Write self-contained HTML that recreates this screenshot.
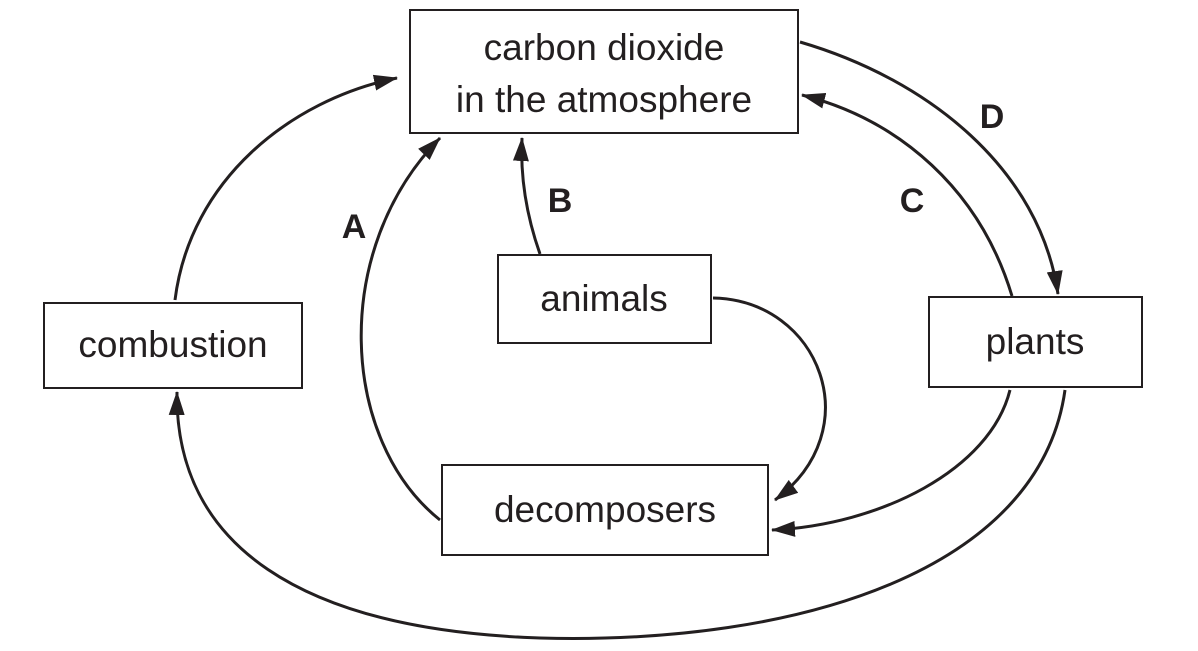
<!DOCTYPE html>
<html><head><meta charset="utf-8"><style>
html,body{margin:0;padding:0;background:#fff;}
svg{display:block;}
text{font-family:"Liberation Sans",Arial,sans-serif;fill:#231f20;}
</style></head><body>
<svg width="1198" height="651" viewBox="0 0 1198 651" xmlns="http://www.w3.org/2000/svg">
<defs>
<marker id="a" viewBox="0 0 24 16" refX="23" refY="8" markerWidth="24" markerHeight="16" orient="auto" markerUnits="userSpaceOnUse">
<path d="M0,0 L24,8 L0,16 Z" fill="#231f20"/>
</marker>
</defs>
<g fill="#fff" stroke="#231f20" stroke-width="2">
<rect x="410" y="10" width="388" height="123"/>
<rect x="44" y="303" width="258" height="85"/>
<rect x="498" y="255" width="213" height="88"/>
<rect x="929" y="297" width="213" height="90"/>
<rect x="442" y="465" width="326" height="90"/>
</g>
<g fill="none" stroke="#231f20" stroke-width="3">
<path d="M175,300 C190,180 290,100 397,78" marker-end="url(#a)"/>
<path d="M440,520 C340,440 330,250 440,138" marker-end="url(#a)"/>
<path d="M540,254 C528,220 520,180 522,138" marker-end="url(#a)"/>
<path d="M1012,296 C980,190 900,120 802,95" marker-end="url(#a)"/>
<path d="M800,42 C930,80 1040,170 1058,294" marker-end="url(#a)"/>
<path d="M713,298 C820,300 870,430 775,500" marker-end="url(#a)"/>
<path d="M1010,390 C990,470 880,525 772,530" marker-end="url(#a)"/>
<path d="M1065,390 C1040,570 800,645 540,638 C300,630 175,545 177,392" marker-end="url(#a)"/>
</g>
<g font-size="37" text-anchor="middle">
<text x="604" y="60">carbon dioxide</text>
<text x="604" y="112">in the atmosphere</text>
<text x="173" y="357">combustion</text>
<text x="604" y="311">animals</text>
<text x="1035" y="354">plants</text>
<text x="605" y="522">decomposers</text>
</g>
<g font-size="34" font-weight="bold" text-anchor="middle">
<text x="354" y="238">A</text>
<text x="560" y="212">B</text>
<text x="912" y="212">C</text>
<text x="992" y="128">D</text>
</g>
</svg>
</body></html>
